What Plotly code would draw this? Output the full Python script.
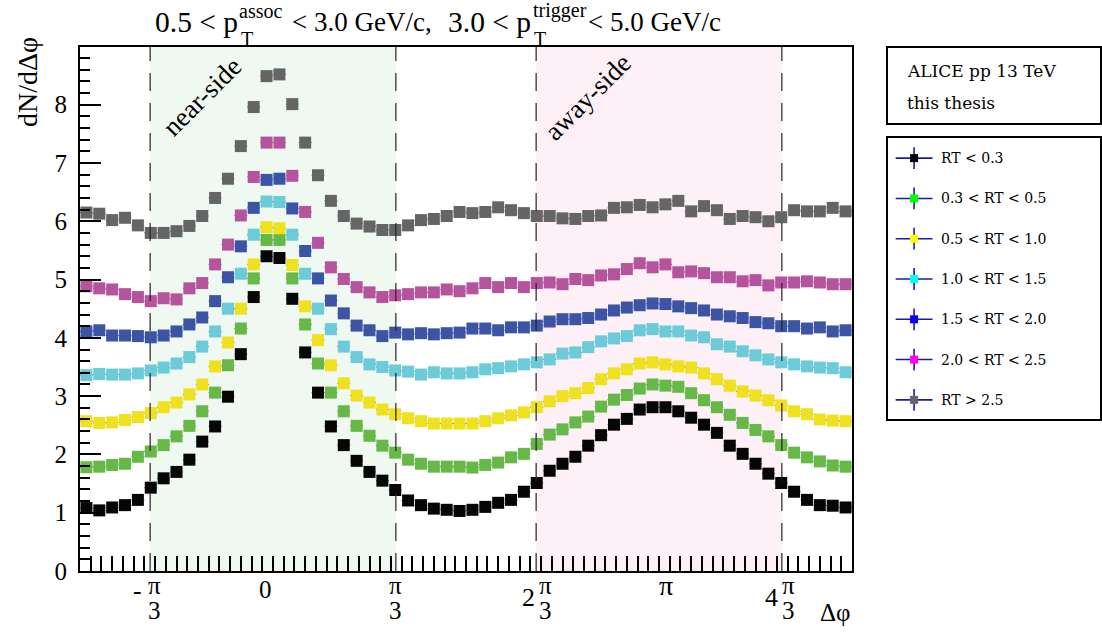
import numpy as np
import plotly.graph_objects as go

W, H = 1102, 632

# Δφ binning: 60 bins over [-π/2, 3π/2)
N_BINS = 60
dphi_edges = np.linspace(-np.pi / 2, 3 * np.pi / 2, N_BINS + 1)
dphi = 0.5 * (dphi_edges[:-1] + dphi_edges[1:])
half_bin = np.pi / N_BINS

# dN/dΔφ per RT class
rt_lt_03 = [1.08, 1.04, 1.09, 1.13, 1.22, 1.43, 1.59, 1.70, 1.91, 2.22,
            2.48, 2.99, 3.72, 4.70, 5.40, 5.37, 4.67, 3.75, 3.06, 2.48,
            2.16, 1.89, 1.70, 1.55, 1.39, 1.21, 1.13, 1.07, 1.05, 1.03,
            1.05, 1.10, 1.17, 1.22, 1.36, 1.51, 1.72, 1.84, 1.96, 2.15,
            2.33, 2.51, 2.61, 2.77, 2.81, 2.81, 2.74, 2.63, 2.51, 2.37,
            2.15, 2.01, 1.84, 1.67, 1.51, 1.36, 1.22, 1.13, 1.12, 1.09]
rt_03_05 = [1.78, 1.79, 1.82, 1.84, 1.96, 2.05, 2.16, 2.31, 2.49, 2.74,
            3.06, 3.53, 4.16, 5.02, 5.68, 5.68, 5.02, 4.23, 3.56, 3.06,
            2.74, 2.49, 2.32, 2.15, 2.03, 1.91, 1.84, 1.79, 1.79, 1.79,
            1.775, 1.82, 1.86, 1.95, 2.01, 2.18, 2.34, 2.43, 2.55, 2.65,
            2.82, 2.94, 3.02, 3.13, 3.20, 3.18, 3.16, 3.05, 2.93, 2.81,
            2.68, 2.54, 2.42, 2.31, 2.16, 2.03, 1.95, 1.88, 1.81, 1.79]
rt_05_10 = [2.57, 2.54, 2.55, 2.59, 2.64, 2.71, 2.81, 2.89, 3.03, 3.20,
            3.51, 3.92, 4.50, 5.26, 5.90, 5.88, 5.25, 4.54, 3.96, 3.53,
            3.22, 3.01, 2.89, 2.77, 2.69, 2.62, 2.57, 2.53, 2.53, 2.53,
            2.53, 2.57, 2.62, 2.67, 2.72, 2.81, 2.91, 3.00, 3.05, 3.14,
            3.29, 3.39, 3.46, 3.56, 3.58, 3.545, 3.51, 3.49, 3.39, 3.29,
            3.18, 3.08, 3.01, 2.93, 2.84, 2.74, 2.69, 2.60, 2.58, 2.57]
rt_10_15 = [3.36, 3.38, 3.37, 3.37, 3.39, 3.44, 3.49, 3.56, 3.67, 3.85,
            4.11, 4.50, 5.10, 5.77, 6.34, 6.33, 5.77, 5.10, 4.50, 4.15,
            3.85, 3.67, 3.545, 3.50, 3.44, 3.42, 3.37, 3.41, 3.39, 3.39,
            3.41, 3.46, 3.48, 3.51, 3.545, 3.58, 3.63, 3.73, 3.75, 3.84,
            3.94, 3.99, 4.03, 4.13, 4.15, 4.11, 4.11, 4.04, 4.01, 3.89,
            3.85, 3.77, 3.70, 3.63, 3.58, 3.545, 3.51, 3.49, 3.48, 3.41]
rt_15_20 = [4.11, 4.13, 4.04, 4.04, 4.03, 4.01, 4.04, 4.11, 4.23, 4.35,
            4.63, 5.04, 5.57, 6.23, 6.71, 6.73, 6.22, 5.49, 5.02, 4.64,
            4.42, 4.21, 4.13, 4.03, 4.09, 4.06, 4.08, 4.06, 4.08, 4.09,
            4.16, 4.16, 4.13, 4.18, 4.18, 4.21, 4.28, 4.32, 4.32, 4.34,
            4.40, 4.47, 4.52, 4.56, 4.59, 4.58, 4.54, 4.51, 4.47, 4.40,
            4.37, 4.34, 4.27, 4.25, 4.20, 4.20, 4.16, 4.18, 4.11, 4.13]
rt_20_25 = [4.885, 4.85, 4.83, 4.75, 4.70, 4.63, 4.68, 4.66, 4.85, 4.94,
            5.26, 5.60, 6.10, 6.76, 7.35, 7.35, 6.78, 6.16, 5.63, 5.21,
            5.01, 4.87, 4.78, 4.70, 4.73, 4.75, 4.78, 4.78, 4.83, 4.80,
            4.85, 4.94, 4.87, 4.94, 4.87, 4.94, 4.95, 4.92, 5.01, 4.99,
            5.07, 5.09, 5.18, 5.28, 5.21, 5.26, 5.125, 5.14, 5.11, 5.04,
            5.04, 4.97, 4.99, 4.90, 4.95, 4.95, 4.97, 4.95, 4.92, 4.92]
rt_gt_25 = [6.15, 6.13, 6.02, 6.06, 5.93, 5.80, 5.80, 5.83, 5.92, 6.09,
            6.40, 6.73, 7.29, 7.96, 8.49, 8.52, 8.01, 7.35, 6.79, 6.35,
            6.09, 5.96, 5.91, 5.85, 5.85, 5.93, 6.02, 6.04, 6.09, 6.16,
            6.14, 6.16, 6.24, 6.19, 6.14, 6.09, 6.09, 6.05, 6.04, 6.09,
            6.10, 6.23, 6.24, 6.28, 6.24, 6.29, 6.35, 6.17, 6.26, 6.19,
            6.04, 6.09, 6.07, 6.00, 6.07, 6.19, 6.17, 6.17, 6.23, 6.17]

series_labels = ["RT < 0.3", "0.3 < RT < 0.5", "0.5 < RT < 1.0", "1.0 < RT < 1.5",
                 "1.5 < RT < 2.0", "2.0 < RT < 2.5", "RT > 2.5"]
series_values = [rt_lt_03, rt_03_05, rt_05_10, rt_10_15, rt_15_20, rt_20_25, rt_gt_25]
marker_colors = ["#060606", "#66b946", "#efe11e", "#6ccbd8", "#3b54a3", "#b5539d", "#656565"]
legend_colors = ["#000000", "#00ff00", "#ffff00", "#00ffff", "#0000ff", "#ff00ff", "#666666"]

# Δφ regions
near_side = (-1.0, 1.0)
away_side = (np.pi - 1.0, np.pi + 1.0)

# x-axis labels (centre position in Δφ, numerator, denominator, prefix)
xlab_pos = [-0.968, -0.065, 1.001, 2.214, 3.198, 4.199]
xlab_num = ["π", "0", "π", "π", "π", "π"]
xlab_den = ["3", "", "3", "3", "", "3"]
xlab_pre = ["-", "", "", "2", "", "4"]

SERIF = "Liberation Serif"
LEG_FONT = "DejaVu Serif"
ERR_COLOR = "rgba(30,30,150,0.75)"


def px(x):
    return x / W


def py(y):
    return 1 - y / H


fig = go.Figure()

for vals, col, name in zip(series_values, marker_colors, series_labels):
    fig.add_trace(go.Scatter(
        x=dphi, y=vals, mode="markers", name=name, showlegend=False,
        marker=dict(symbol="square", size=12, color=col, line=dict(width=0)),
        error_x=dict(type="constant", value=half_bin, color=ERR_COLOR, thickness=1, width=0),
        xaxis="x", yaxis="y",
    ))

# legend panel drawn on its own hidden axes
for j, (col, name) in enumerate(zip(legend_colors, series_labels)):
    fig.add_trace(go.Scatter(
        x=[0.123], y=[j + 0.5], mode="markers", showlegend=False,
        marker=dict(symbol="square", size=8, color=col, line=dict(width=0)),
        error_x=dict(type="constant", value=0.087, color="#1a1aa8", thickness=1.6, width=0),
        error_y=dict(type="constant", value=0.27, color="#1a1aa8", thickness=1.6, width=0),
        xaxis="x2", yaxis="y2",
    ))

shapes = []
for (lo, hi), fill in [(near_side, "#eff8f1"), (away_side, "#fdf1f7")]:
    shapes.append(dict(type="rect", xref="x", yref="y", x0=lo, x1=hi, y0=0, y1=9,
                       fillcolor=fill, line=dict(width=0), layer="below"))
for xv in [near_side[0], near_side[1], away_side[0], away_side[1]]:
    shapes.append(dict(type="line", xref="x", yref="y", x0=xv, x1=xv, y0=0, y1=8.99,
                       line=dict(color="#222222", width=1.2, dash="18px,12px"), layer="above"))
# text boxes on the right
shapes.append(dict(type="rect", xref="paper", yref="paper", x0=px(887), x1=px(1101),
                   y0=py(124), y1=py(47), line=dict(color="black", width=2), fillcolor="white"))
shapes.append(dict(type="rect", xref="paper", yref="paper", x0=px(887), x1=px(1101),
                   y0=py(420), y1=py(137), line=dict(color="black", width=2), fillcolor="rgba(0,0,0,0)"))

ann = []


def text(t, x, y, size, xanchor="center", yanchor="middle", angle=0, family=SERIF,
         xref="paper", yref="paper", xshift=0):
    ann.append(dict(text=t, x=x, y=y, xref=xref, yref=yref, xanchor=xanchor, yanchor=yanchor,
                    showarrow=False, textangle=angle, borderpad=0, borderwidth=0, xshift=xshift,
                    font=dict(family=family, size=size, color="black")))


# title with stacked sub/superscripts
text("0.5 < p", px(238), py(22), 29.5, xanchor="right")
text("assoc", px(239), py(11), 20, xanchor="left")
text("T", px(241), py(39), 20, xanchor="left")
text("< 3.0 GeV/c,", px(292), py(22), 27, xanchor="left")
text("3.0 < p", px(531), py(22), 29.5, xanchor="right")
text("trigger", px(533), py(11), 20, xanchor="left")
text("T", px(534), py(39), 20, xanchor="left")
text("< 5.0 GeV/c", px(588), py(22), 27, xanchor="left")

# region labels
text("near-side", near_side[0] + 0.42, py(97), 27, angle=-45, xref="x")
text("away-side", away_side[0] + 0.42, py(97), 27, angle=-45, xref="x")

# axis titles
text("dN/dΔφ", px(27), py(82), 28, angle=-90)
text("Δφ", px(835), py(612), 25)

# x-axis labels: stacked fractions in one text block with tight line spacing
for pos, num, den, pre in zip(xlab_pos, xlab_num, xlab_den, xlab_pre):
    if den:
        frac = (f"<span style='font-size:25px'>{num}</span><br>"
                f"<span style='font-size:25px'>{den}</span>")
        text(frac, pos, py(598), 19, xref="x")
    else:
        size = 25 if num == "0" else 28
        text(num, pos, py(589 if num == "0" else 585), size, xref="x")
    if pre:
        text(pre, pos, py(590 if pre == "-" else 597), 26, xref="x", xshift=-17)

# info box and legend labels
text("ALICE pp 13 TeV", px(907), py(71), 17, xanchor="left", family=LEG_FONT)
text("this thesis", px(907), py(103), 17, xanchor="left", family=LEG_FONT)
for j, name in enumerate(series_labels):
    text(name, px(941), j + 0.5, 14, xanchor="left", family=LEG_FONT, yref="y2")

fig.update_layout(
    width=W, height=H,
    margin=dict(l=0, r=0, t=0, b=0, autoexpand=False),
    paper_bgcolor="white", plot_bgcolor="white",
    shapes=shapes, annotations=ann,
    xaxis=dict(domain=[px(80), px(852)], range=[-np.pi / 2, 3 * np.pi / 2],
               showline=True, mirror=True, linecolor="black", linewidth=2,
               ticks="inside", ticklen=15, tickwidth=1.5, tickcolor="black",
               tick0=-np.pi / 2, dtick=2 * np.pi / 72, showticklabels=False,
               showgrid=False, zeroline=False),
    yaxis=dict(domain=[py(571), py(47)], range=[0, 8.99],
               showline=True, mirror=True, linecolor="black", linewidth=2,
               ticks="inside", ticklen=21, tickwidth=2, tickcolor="black",
               tick0=0, dtick=1, ticklabelstandoff=6,
               tickfont=dict(family=SERIF, size=25, color="black"),
               minor=dict(ticks="inside", ticklen=10, tickwidth=2, tickcolor="black", dtick=0.2),
               showgrid=False, zeroline=False),
    xaxis2=dict(domain=[px(888), px(1100)], range=[0, 1], visible=False, anchor="y2"),
    yaxis2=dict(domain=[py(420), py(138)], range=[7, 0], visible=False, anchor="x2"),
)

fig.write_html("out.html")
